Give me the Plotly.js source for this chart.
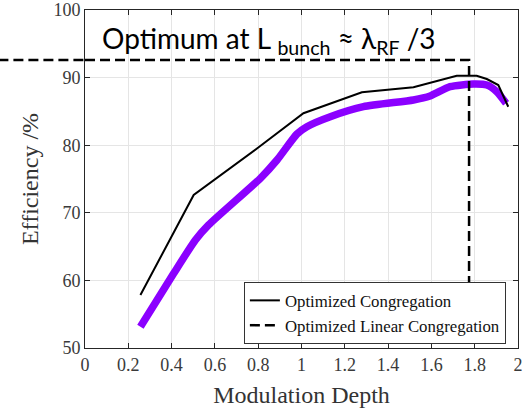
<!DOCTYPE html>
<html>
<head>
<meta charset="utf-8">
<script src="https://cdn.plot.ly/plotly-3.0.1.min.js"></script>
<style>html,body{margin:0;padding:0;background:#fff;}#chart{width:527px;height:408px;}</style>
</head>
<body>
<div id="chart"></div>
<script>
// Optimized Congregation (black, thin)
var congX = [0.256, 0.502, 0.805, 1.009, 1.279, 1.517, 1.717, 1.809, 1.856, 1.909, 1.955];
var congY = [57.84, 72.63, 79.77, 84.73, 87.83, 88.57, 90.28, 90.28, 89.79, 88.9, 85.69];
// Thick violet curve
var violetX = [0.256, 0.41, 0.51, 0.571, 0.81, 0.887, 0.979, 1.025, 1.133, 1.286, 1.517, 1.594, 1.686, 1.794, 1.856, 1.902, 1.945];
var violetY = [53.15, 61.05, 65.98, 68.2, 75.1, 77.81, 81.66, 82.74, 84.22, 85.7, 86.69, 87.28, 88.66, 89.05, 88.9, 87.91, 86.2];
// Optimized Linear Congregation (dashed marker of optimum)
var optX = 1.774;
var optY = 92.6;
var optEndY = 58.3;
var xTicks = [0, 0.2, 0.4, 0.6, 0.8, 1, 1.2, 1.4, 1.6, 1.8, 2];
var yTicks = [50, 60, 70, 80, 90, 100];

var serif = '"Liberation Serif", "Times New Roman", serif';
var traces = [
  {x: violetX, y: violetY, mode: 'lines', line: {color: '#8B00FF', width: 7.5, shape: 'spline', smoothing: 0.6}, showlegend: false, hoverinfo: 'skip'},
  {x: congX, y: congY, mode: 'lines', name: 'Optimized Congregation', line: {color: '#000', width: 2}},
  {x: [0, optX, optX], y: [optY, optY, optEndY], mode: 'lines', name: 'Optimized Linear Congregation', line: {color: '#000', width: 2.5, dash: '10px,5px'}}
];
var axisCommon = {
  showline: true, linecolor: '#262626', linewidth: 1, mirror: 'ticks',
  ticks: 'inside', ticklen: 5, tickcolor: '#262626',
  showgrid: true, gridcolor: '#e5e5e5', gridwidth: 1, zeroline: false,
  ticklabeloverflow: 'allow',
  tickfont: {family: serif, size: 18, color: '#3a3a3a'}
};
var layout = {
  width: 527, height: 408,
  margin: {l: 84.5, r: 9, t: 10, b: 60},
  paper_bgcolor: '#fff', plot_bgcolor: '#fff',
  xaxis: Object.assign({}, axisCommon, {range: [0, 2], tickvals: xTicks, ticktext: xTicks.map(String),
    title: {text: 'Modulation Depth', font: {family: serif, size: 24, color: '#333'}, standoff: 13}}),
  yaxis: Object.assign({}, axisCommon, {range: [50, 100], tickvals: yTicks, ticktext: yTicks.map(String),
    title: {text: 'Efficiency /%', font: {family: serif, size: 24, color: '#333'}, standoff: 8}}),
  legend: {x: 0.972, y: 0.012, xanchor: 'right', yanchor: 'bottom', bgcolor: '#fff', bordercolor: '#333', borderwidth: 1,
    font: {family: serif, size: 16.8, color: '#111'}, tracegroupgap: 0},
  shapes: [
    {type: 'line', xref: 'paper', yref: 'y', x0: -0.2, x1: 0, y0: optY, y1: optY, line: {color: '#000', width: 2.5, dash: '10px,5px'}, layer: 'above'}
  ],
  annotations: [
    {xref: 'paper', yref: 'paper', x: 0.035, y: 1, xanchor: 'left', yanchor: 'top', yshift: -9, showarrow: false,
     text: 'Optimum at L <sub>bunch</sub> ≈ λ<sub>RF</sub> /3', font: {family: 'Lato, "Open Sans", sans-serif', size: 28, color: '#000'}}
  ]
};
Plotly.newPlot('chart', traces, layout, {displayModeBar: false, staticPlot: true});
</script>
</body>
</html>
